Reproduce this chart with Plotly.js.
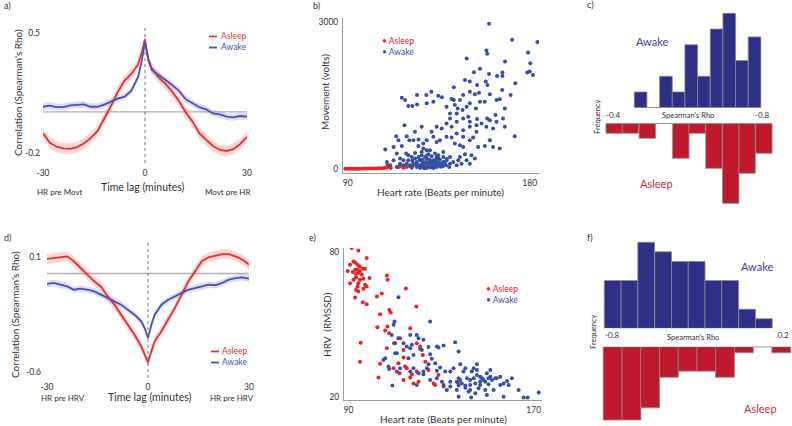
<!DOCTYPE html>
<html><head><meta charset="utf-8">
<script src="https://cdn.plot.ly/plotly-3.0.1.min.js"></script>
<style>html,body{margin:0;padding:0;background:#fff}#plot{width:792px;height:426px}</style>
</head><body><div id="plot"></div>
<script>
// ---------- DATA ----------
// a) HR vs movement cross-correlation
const lagMin = [-30,-28,-26,-24,-22,-20,-18,-16,-14,-12,-10,-8,-6,-4,-2,-1,0,1,2,4,6,8,10,12,14,16,18,20,22,24,26,28,30];
const aAsleep = [-0.085,-0.140,-0.163,-0.173,-0.175,-0.165,-0.144,-0.113,-0.072,-0.002,0.074,0.156,0.222,0.261,0.318,0.381,0.463,0.340,0.294,0.241,0.204,0.158,0.103,0.037,-0.017,-0.085,-0.124,-0.159,-0.182,-0.188,-0.177,-0.147,-0.105];
const aAwake = [0.070,0.076,0.068,0.068,0.078,0.080,0.084,0.070,0.070,0.082,0.100,0.117,0.129,0.164,0.245,0.333,0.444,0.345,0.284,0.255,0.226,0.197,0.162,0.113,0.090,0.068,0.055,0.031,0.026,0.012,0.008,0.016,0.012];
const aAsleepSE = 0.032, aAwakeSE = 0.02, aRefLine = 0.04;
// d) HR vs HRV cross-correlation
const dAsleep = [0.088,0.094,0.098,0.104,0.074,0.033,-0.008,-0.048,-0.079,-0.139,-0.190,-0.251,-0.312,-0.373,-0.444,-0.494,-0.541,-0.474,-0.413,-0.352,-0.281,-0.210,-0.129,-0.048,0.013,0.074,0.098,0.110,0.118,0.118,0.104,0.084,0.053];
const dAwake = [-0.064,-0.058,-0.068,-0.079,-0.099,-0.093,-0.099,-0.109,-0.129,-0.150,-0.170,-0.190,-0.221,-0.251,-0.292,-0.332,-0.393,-0.312,-0.251,-0.190,-0.160,-0.139,-0.119,-0.099,-0.089,-0.079,-0.068,-0.072,-0.058,-0.038,-0.028,-0.024,-0.032];
const dAsleepSE = 0.03, dAwakeSE = 0.02, dRefLine = 0;

// b) heart rate vs movement
const bHrAsleep = [88.9,90,91.3,92.6,93.9,94.9,96.2,97.6,98.7,99.9,101.2,102.8,104.1,105.4,106.9,108.1,109.4,109.7,110.7,111.3,115.1,115.9,117.6,119.2,120.9,122.2,123.3,124.2];
const bMovAsleep = [0,0,0,0,0,0,0,5,5,5,5,5,5,10,10,15,20,69,48,14,34,55,21,34,48,62,82,69];
const bHrAwake = [159.9,171.3,183.8,179.2,180.3,148.8,158.6,159.0,167.8,178.8,180.0,181.6,172.9,152.4,155.4,159.9,166.5,166.5,148.0,150.4,154.0,158.3,159.1,163.9,142.5,150.4,154.9,166.4,147.1,152.9,160.3,131.4,134.8,136.6,128.9,116.8,118.4,120.0,122.0,124.3,124.3,141.4,142.5,145.5,146.8,150.4,155.4,157.8,163.6,165.2,167.7,170.6,143.0,138.9,144.4,148.8,153.4,132.4,129.1,140.6,143.9,149.6,154.0,163.1,159.0,140.6,147.1,143.9,150.4,153.7,156.2,160.3,163.6,166.8,167.7,172.6,161.9,158.6,153.7,150.4,147.1,143.9,141.4,138.9,136.5,134.0,131.5,126.6,118.1,123.3,114.0,119.2,115.1,116.8,120.5,122.5,125.0,125.0,127.4,129.1,132.4,134.0,135.6,138.9,141.4,143.0,145.5,147.1,150.4,152.1,154.5,157.8,161.9,165.2,160.3,147.1,108.6,112.7,114.3,118.9,130.7,137.3,140.6,144.7,146.3,151.2,148.0,134.0,109.4,111.0,112.7,115.9,117.6,120.0,121.7,
 122.5,124.2,125.0,125.8,126.6,127.4,128.3,129.1,129.9,130.7,131.5,132.4,133.2,134.0,134.8,135.6,136.5,137.3,124.2,125.8,127.4,129.1,130.7,132.4,134.0,123.3,125.0,126.6,128.3,129.9,131.5,133.2,134.8,137.3,138.9,140.6,142.2,126.6,127.4,129.1,125.5,127.1,128.8,130.4,132.0,133.7,135.3,137.0,138.6,140.2,119.2,120.9,117.6,115.9,114.3,121.7,120.0,123.3,143.9,145.5,148.8,150.4,152.9,126,128,130,132,134,136,131,127,133,129,135,124,122,138,139,136,128,131,126,133];
const bMovAwake = [2973,2643,2595,2382,2162,2259,2423,2355,2197,1970,1991,1922,1751,1977,2046,1943,1970,1902,1819,1785,1716,1785,1716,1902,1668,1579,1558,1613,1510,1524,1524,1579,1497,1462,1510,1455,1407,1284,1284,1510,1318,1428,1407,1407,1201,1339,1373,1373,1407,1421,1236,1510,1304,1270,1236,1270,1236,1373,1339,1133,1133,1064,1016,1098,1030,1030,1030,961,961,892,927,995,961,1030,858,666,824,858,755,858,789,721,858,927,824,858,755,858,892,755,666,666,584,467,584,584,597,467,515,584,652,549,584,652,638,515,481,446,584,638,446,467,446,412,584,652,391,446,309,309,378,343,240,172,103,275,295,240,137,69,172,206,172,275,240,
 103,137,69,172,89,117,48,206,103,137,69,172,89,124,69,185,103,137,34,21,34,14,34,14,34,206,240,275,240,295,254,309,275,240,172,103,137,343,412,378,185,185,137,185,117,185,117,48,69,34,103,69,69,103,34,21,172,323,69,240,172,103,206,60,90,50,100,60,80,160,150,150,260,210,90,160,110,200,40,10,25,25,45];

// e) heart rate vs HRV
const eHrAsleep = [91.4,94.3,97.9,92.2,92.9,93.9,90.7,94.8,89.7,92.9,93.9,95.0,96.2,97.2,91.9,93.3,94.3,95.8,99.1,93.3,92.2,95.0,96.5,90.7,94.3,93.9,97.2,97.9,93.3,94.3,96.5,92.9,96.2,97.9,106.6,106.9,102.3,104.4,114.8,103.7,107.7,108.3,102.5,106.9,105.9,107.6,119.3,116.7,95.3,95.0,103.7,112.3,110.2,106.6,113.8,111.6,113.8,114.5,112.1,117.4,116.7,113.8,119.5,119.5,121.0,122.1,123.2,124.6,126.8,127.5,103.0,118.1,120.3,115.2,131.1,128.9,109.5,137.3];
const eHrvAsleep = [81.7,80.7,77.5,76.1,75.7,74.7,74.7,74.0,72.2,72.7,72.7,72.2,73.1,73.1,71.7,70.9,71.3,70.6,69.2,69.5,68.5,68.5,68.9,67.1,67.1,65.7,66.4,65.7,64.3,63.6,64.8,61.2,59.2,58.4,70.3,68.5,61.6,62.8,64.9,54.2,56.0,54.9,48.8,49.1,47.4,46.3,57.4,48.4,42.4,34.5,33.6,44.2,42.2,40.1,39.4,33.9,36.2,32.5,29.7,29.3,27.9,26.9,30.4,42.2,40.8,37.3,34.5,31.1,25.5,24.8,27.9,25.5,26.2,31.8,24.2,29.0,31.8,25.8];
const eHrAwake = [111.6,125.3,109.9,109.5,108.7,111.6,109.7,116.7,119.5,120.3,122.4,113.8,115.2,117.4,110.2,110.9,105.9,105.1,107.3,107.6,110.9,112.3,115.9,116.7,118.1,121.0,121.7,124.6,128.2,128.9,131.1,136.1,137.6,125.3,126.0,124.6,127.5,129.6,128.2,123.9,122.4,118.1,116.7,120.3,122.4,119.5,125.3,128.2,130.4,131.8,134.0,135.4,138.3,140.5,144.1,143.3,145.5,139.7,141.2,138.3,136.8,139.0,142.6,144.1,145.5,146.9,149.8,151.3,151.3,148.4,146.9,144.8,142.6,140.5,137.6,136.8,137.6,141.9,143.0,144.8,146.2,146.9,149.1,150.5,152.0,152.7,149.1,149.8,154.1,155.6,157.0,158.5,159.2,155.6,157.0,160.6,163.5,165.7,167.4,172.2,109.0,132.5,134.0,131.1,145.5,147.7,150.5,153.4,142.6,140.5,137.6,134.0];
const eHrvAwake = [61.3,51.2,51.2,49.8,45.6,44.2,42.2,45.6,45.6,44.2,43.6,42.2,40.8,41.5,38.0,38.0,35.9,35.2,32.5,31.5,30.4,31.8,35.9,40.1,37.3,39.8,39.4,40.6,40.8,40.4,41.2,42.6,38.7,37.6,35.7,33.4,33.9,32.1,30.7,31.8,30.4,31.8,30.4,29.7,29.3,24.8,26.9,27.6,26.2,30.4,30.4,31.8,33.4,31.8,31.8,30.4,33.4,30.4,27.6,26.9,26.2,25.5,26.9,27.6,29.0,28.3,29.7,31.1,28.3,26.9,26.2,25.5,24.8,24.6,24.6,22.8,20.0,22.1,19.6,21.4,23.5,24.8,26.2,25.1,26.9,22.8,22.8,20.7,27.6,28.3,25.5,26.5,24.8,24.8,20.0,27.6,22.8,19.6,19.6,21.7,24.6,22.8,24.2,24.8,31.1,27.6,27.6,27.6,22.8,23.7,27.6,26.2];

// c) histograms of Spearman's rho (HR vs movement)
const cAwakeBins = [-0.474,-0.508,-0.542,-0.576,-0.610,-0.644,-0.678,-0.712,-0.746,-0.780];
const cAwakeFreq = [1,0,2,1,4,2,5,6,3,4.5];
const cAsleepBins = [-0.403,-0.447,-0.492,-0.537,-0.582,-0.626,-0.671,-0.716,-0.760,-0.805];
const cAsleepFreq = [2,2,3,0,7,2,9,16,10,6];
// f) histograms of Spearman's rho (HR vs HRV)
const fAwakeBins = [-0.796,-0.698,-0.600,-0.501,-0.403,-0.305,-0.207,-0.109,-0.010,0.088];
const fAwakeFreq = [5,5,9,8,7,7,5,5,2,1];
const fAsleepBins = [-0.796,-0.686,-0.577,-0.467,-0.358,-0.248,-0.139,-0.029,0.080,0.190];
const fAsleepFreq = [12,12,10,5,4,4,5,1,0,1];

// ---------- STYLE ----------
const W = 792, H = 426;
const FONT = 'Lato, "Open Sans", sans-serif';
const TXT = '#333333';
const lineRed = '#e2322d', lineBlue = '#4a52b2';
const bandRed = 'rgba(240,140,140,0.35)', bandBlue = 'rgba(140,140,215,0.30)';
const dotRed = '#ee2024', dotBlue = '#3550a8';
const histBlue = '#2e2f86', histRed = '#c1192c', histEdge = '#8a8a8a';
const px = v => v / W, py = v => 1 - v / H;
const dX = (l, r) => [px(l), px(r)];
const dY = (top, bottom) => [py(bottom), py(top)];

function band(x, y, hw, color, xa, ya) {
  return {x: x.concat(x.slice().reverse()),
          y: y.map(v => v + hw).concat(y.map(v => v - hw).reverse()),
          xaxis: xa, yaxis: ya, mode: 'lines', fill: 'toself', fillcolor: color,
          line: {width: 0}, hoverinfo: 'skip'};
}
function line(x, y, color, xa, ya) {
  return {x, y, xaxis: xa, yaxis: ya, mode: 'lines', line: {color, width: 1.8}};
}
function dots(x, y, color, xa, ya) {
  return {x, y, xaxis: xa, yaxis: ya, mode: 'markers', type: 'scatter',
          marker: {color, size: 4}};
}
function bars(x, y, color, xa, ya) {
  return {type: 'bar', x, y, xaxis: xa, yaxis: ya, width: Math.abs(x[1] - x[0]),
          marker: {color, line: {color: histEdge, width: 0.8}}};
}

const traces = [
  band(lagMin, aAsleep, aAsleepSE, bandRed, 'x', 'y'),
  band(lagMin, aAwake, aAwakeSE, bandBlue, 'x', 'y'),
  line(lagMin, aAsleep, lineRed, 'x', 'y'),
  line(lagMin, aAwake, lineBlue, 'x', 'y'),
  dots(bHrAsleep, bMovAsleep, dotRed, 'x2', 'y2'),
  dots(bHrAwake, bMovAwake, dotBlue, 'x2', 'y2'),
  bars(cAwakeBins, cAwakeFreq, histBlue, 'x3', 'y3'),
  bars(cAsleepBins, cAsleepFreq, histRed, 'x4', 'y4'),
  band(lagMin, dAsleep, dAsleepSE, bandRed, 'x5', 'y5'),
  band(lagMin, dAwake, dAwakeSE, bandBlue, 'x5', 'y5'),
  line(lagMin, dAsleep, lineRed, 'x5', 'y5'),
  line(lagMin, dAwake, lineBlue, 'x5', 'y5'),
  dots(eHrAsleep, eHrvAsleep, dotRed, 'x6', 'y6'),
  dots(eHrAwake, eHrvAwake, dotBlue, 'x6', 'y6'),
  bars(fAwakeBins, fAwakeFreq, histBlue, 'x7', 'y7'),
  bars(fAsleepBins, fAsleepFreq, histRed, 'x8', 'y8')
];

const tickFont = {family: FONT, size: 8.5, color: TXT};
function ax(domain, range, tickvals, anchor, extra) {
  return Object.assign({domain, range, tickvals, ticktext: tickvals.map(String), anchor,
    showgrid: false, zeroline: false, showline: false, ticks: '', tickfont: tickFont,
    fixedrange: true}, extra || {});
}
const hidden = (domain, range, anchor) => ({domain, range, anchor, visible: false, fixedrange: true});
const axLine = {showline: true, linecolor: '#9a9a9a', linewidth: 1};

// shapes
const shapes = [];
function refLines(xa, ya, yv) {
  shapes.push({type: 'line', layer: 'below', xref: xa, yref: ya, x0: lagMin[0], x1: lagMin[lagMin.length - 1],
               y0: yv, y1: yv, line: {color: '#b0b0b0', width: 1.4}});
  shapes.push({type: 'line', layer: 'above', xref: xa, yref: ya + ' domain', x0: 0, x1: 0, y0: 0, y1: 1,
               line: {color: '#777', width: 1, dash: 'dot'}});
}
refLines('x', 'y', aRefLine);
refLines('x5', 'y5', dRefLine);
function emptyBins(bins, freq, xa, ya) {
  const w = Math.abs(bins[1] - bins[0]);
  bins.forEach((b, i) => { if (freq[i] === 0) shapes.push({type: 'line', xref: xa, yref: ya,
    x0: b - w / 2, x1: b + w / 2, y0: 0, y1: 0, line: {color: histEdge, width: 1}}); });
}
emptyBins(cAwakeBins, cAwakeFreq, 'x3', 'y3');
emptyBins(cAsleepBins, cAsleepFreq, 'x4', 'y4');
emptyBins(fAwakeBins, fAwakeFreq, 'x7', 'y7');
emptyBins(fAsleepBins, fAsleepFreq, 'x8', 'y8');
function keyLine(x0, x1, y, color) {
  shapes.push({type: 'line', xref: 'paper', yref: 'paper', x0: px(x0), x1: px(x1), y0: py(y), y1: py(y),
               line: {color, width: 1.8}});
}

// annotations
const anns = [];
function T(text, x, y, o) {
  o = o || {};
  anns.push({text, x: px(x), y: py(y), xref: 'paper', yref: 'paper', showarrow: false,
    xanchor: o.xa || 'center', yanchor: 'middle', textangle: o.rot || 0, borderpad: 0,
    align: o.align || 'center',
    font: {family: FONT, size: o.size || 10, color: o.color || TXT}});
}
// two-entry legend drawn as one text block (line spacing 1.3 em)
function legend2(x, yMid, size, c1, t1, c2, t2, keyX) {
  T('<span style="color:' + c1 + '">' + t1 + '</span><br><span style="color:' + c2 + '">' + t2 + '</span>',
    x, yMid, {xa: 'left', align: 'left', size});
  if (keyX) {
    const half = size * 1.3 / 2;
    keyLine(keyX[0], keyX[1], yMid - half + 0.5, c1);
    keyLine(keyX[0], keyX[1], yMid + half + 0.5, c2);
  }
}
// a
T('a)', 3, 6, {xa: 'left', size: 9});
T("Correlation (Spearman's Rho)", 18, 93, {rot: -90, size: 10});
T('Time lag (minutes)', 143, 187, {size: 10.5});
T('HR pre Movt', 60, 192, {size: 8});
T('Movt pre HR', 227, 192, {size: 8});
legend2(220, 41.5, 8.5, lineRed, 'Asleep', lineBlue, 'Awake', [209, 217]);
// d
T('d)', 3, 237, {xa: 'left', size: 9});
T("Correlation (Spearman's Rho)", 15, 315, {rot: -90, size: 10});
T('Time lag (minutes)', 150, 397, {size: 10.5});
T('HR pre HRV', 63, 398, {size: 8});
T('HR pre HRV', 232, 398, {size: 8});
legend2(221, 356.5, 8.5, lineRed, 'Asleep', lineBlue, 'Awake', [211, 219]);
// b
T('b)', 312, 6, {xa: 'left', size: 9});
T('Movement (volts)', 325, 92, {rot: -90, size: 10});
T('Heart rate (Beats per minute)', 440, 192, {size: 10});
legend2(381, 46.5, 8.5, dotRed, '• Asleep', dotBlue, '• Awake');
// e
T('e)', 308, 238, {xa: 'left', size: 9});
T('HRV  (RMSSD)', 327, 325, {rot: -90, size: 10});
T('Heart rate (Beats per minute)', 443, 419, {size: 10});
legend2(485, 294.5, 8.5, dotRed, '• Asleep', dotBlue, '• Awake');
// c
T('c)', 586, 5, {xa: 'left', size: 9});
T("Spearman's Rho", 688, 116, {size: 7.5});
T('Frequency', 597, 117, {rot: -90, size: 7.5});
T('Awake', 652, 42, {size: 11, color: '#3b3ea6'});
T('Asleep', 656, 183, {size: 11, color: '#d02a3c'});
// f
T('f)', 586, 238, {xa: 'left', size: 9});
T("Spearman's Rho", 693, 337, {size: 7.5});
T('Frequency', 593, 332, {rot: -90, size: 7.5});
T('Awake', 757, 266, {size: 11, color: '#3b3ea6'});
T('Asleep', 760, 408, {size: 11, color: '#d02a3c'});

const layout = {
  width: W, height: H, margin: {l: 0, r: 0, t: 0, b: 0},
  paper_bgcolor: '#fff', plot_bgcolor: 'rgba(0,0,0,0)', showlegend: false,
  font: {family: FONT, color: TXT}, barmode: 'overlay', bargap: 0,
  // a
  xaxis: ax(dX(43, 247), [-30, 30], [-30, 0, 30], 'y', {ticklabelstandoff: 3}),
  yaxis: ax(dY(28, 163), [-0.258, 0.529], [0.5, -0.2], 'x', {ticklabelstandoff: 2}),
  // b
  xaxis2: ax(dX(343, 539), [87.7, 184.6], [90, 180], 'y2', Object.assign({ticklabelstandoff: 2}, axLine)),
  yaxis2: ax(dY(18, 173), [-89, 3089], [0, 3000], 'x2', Object.assign({ticklabelstandoff: 2}, axLine)),
  // c
  xaxis3: ax(dX(600, 780), [-0.365, -0.8483], [-0.4, -0.8], 'y3', {ticklabelstandoff: 1, tickfont: {family: FONT, size: 8, color: TXT}}),
  yaxis3: hidden(dY(5, 107.7), [0, 6.53], 'x3'),
  xaxis4: hidden(dX(600, 780), [-0.365, -0.8483], 'y4'),
  yaxis4: hidden(dY(123.3, 210), [17.34, 0], 'x4'),
  // d
  xaxis5: ax(dX(47, 249), [-30, 30], [-30, 0, 30], 'y5', {ticklabelstandoff: 2}),
  yaxis5: ax(dY(240, 378), [-0.6365, 0.2035], [0.1, -0.6], 'x5', {ticklabelstandoff: 5}),
  // e
  xaxis6: ax(dX(344, 542), [88.1, 173.6], [90, 170], 'y6', Object.assign({ticklabelstandoff: 2}, axLine)),
  yaxis6: ax(dY(248, 400), [18.6, 81.7], [20, 80], 'x6', Object.assign({ticklabelstandoff: 2}, axLine)),
  // f
  xaxis7: ax(dX(600, 792), [-0.870, 0.2526], [-0.8, 0.2], 'y7', {ticklabelstandoff: 1, tickfont: {family: FONT, size: 8, color: TXT}}),
  yaxis7: hidden(dY(235, 328.3), [0, 9.76], 'x7'),
  xaxis8: hidden(dX(600, 792), [-0.870, 0.2526], 'y8'),
  yaxis8: hidden(dY(346.7, 424), [12.65, 0], 'x8'),
  shapes, annotations: anns
};
Plotly.newPlot('plot', traces, layout, {displayModeBar: false, staticPlot: true});
</script></body></html>
